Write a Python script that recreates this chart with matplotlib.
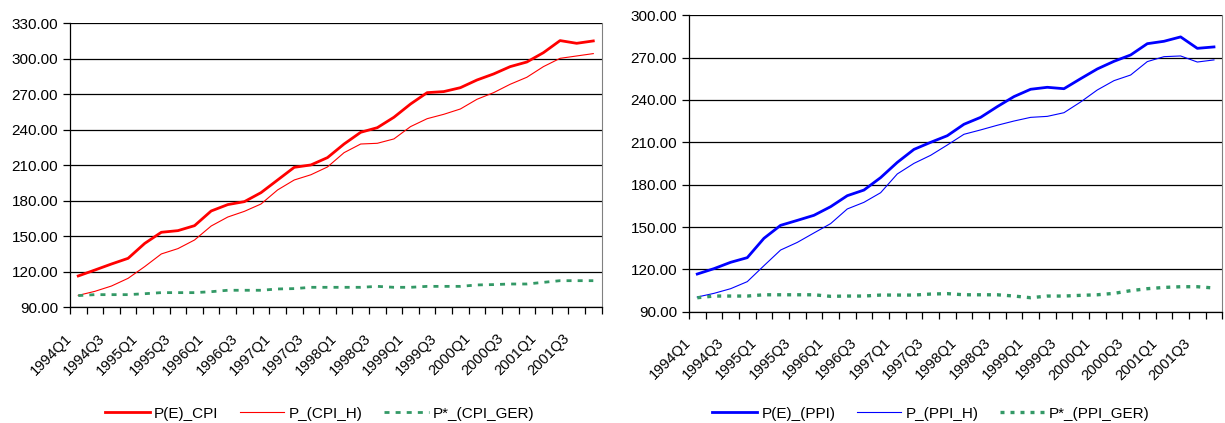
import matplotlib

matplotlib.use("Agg")
import matplotlib.pyplot as plt
import matplotlib.transforms as mtransforms
import numpy as np

plt.rcParams.update({
    "font.family": ["Liberation Sans", "DejaVu Sans"],
    "font.size": 10.5,
})

QUARTERS = [f"{y}Q{q}" for y in range(1994, 2002) for q in range(1, 5)]

PE_CPI = [116.5, 121.5, 126.6, 131.4, 144.0, 153.4, 154.8, 159.0,
          171.4, 176.8, 179.3, 186.9, 197.6, 208.3, 210.3, 216.5,
          228.0, 237.9, 241.8, 250.6, 261.8, 271.4, 272.3, 275.6,
          282.1, 287.2, 293.4, 297.3, 305.2, 315.4, 313.1, 315.1]
P_CPI_H = [100.1, 103.5, 108.0, 114.5, 124.4, 135.1, 139.6, 146.9,
           158.7, 166.3, 171.1, 177.3, 189.2, 197.6, 202.0, 208.6,
           220.7, 228.0, 228.6, 232.3, 242.7, 249.4, 253.1, 257.6,
           265.8, 271.4, 278.5, 284.4, 293.4, 300.4, 302.4, 304.4]
P_CPI_GER = [99.9, 100.7, 100.7, 100.7, 101.5, 102.4, 102.4, 102.4,
             103.2, 104.4, 104.4, 104.4, 105.5, 105.8, 106.9, 106.9,
             106.9, 106.9, 107.7, 106.9, 106.9, 107.7, 107.7, 107.7,
             108.9, 109.2, 109.7, 109.7, 111.1, 112.5, 112.5, 112.5]

PE_PPI = [116.7, 120.5, 125.0, 128.3, 142.0, 151.2, 154.7, 158.3,
          164.4, 172.2, 176.2, 185.0, 195.8, 205.0, 210.0, 214.7,
          222.8, 227.7, 235.3, 242.4, 247.6, 249.0, 248.0, 255.1,
          262.0, 267.4, 271.9, 279.9, 281.6, 284.7, 276.6, 277.6]
P_PPI_H = [100.4, 103.0, 106.3, 111.3, 122.6, 133.7, 139.1, 145.8,
           152.4, 162.8, 167.5, 174.3, 187.6, 195.1, 200.8, 208.1,
           215.7, 218.8, 222.1, 225.1, 227.7, 228.4, 231.0, 238.6,
           247.1, 253.7, 257.7, 267.2, 270.7, 271.2, 266.9, 268.4]
P_PPI_GER = [99.9, 101.1, 101.1, 101.1, 102.0, 102.0, 102.0, 102.0,
             100.9, 101.1, 101.1, 101.8, 101.8, 101.8, 102.5, 102.8,
             102.0, 102.0, 102.0, 101.1, 99.9, 101.1, 101.1, 101.6,
             102.0, 103.0, 104.9, 106.3, 107.2, 107.7, 107.7, 106.8]

GREEN = "#339966"


def setup(ax, ymax):
    n = len(QUARTERS)
    ax.set_xlim(-0.5, n - 0.5)
    ax.set_ylim(90, ymax)
    ax.set_yticks(np.arange(90, ymax + 1, 30))
    ax.yaxis.set_major_formatter(matplotlib.ticker.FormatStrFormatter("%.2f"))
    ax.yaxis.grid(True, color="black", lw=0.9)
    ax.set_axisbelow(True)
    ax.set_xticks(np.arange(n + 1) - 0.5)
    ax.set_xticklabels([])
    ax.set_xticks(np.arange(0, n, 2), minor=True)
    ax.set_xticklabels(QUARTERS[::2], minor=True, rotation=45, ha="right",
                       va="center", rotation_mode="anchor")
    ax.tick_params(axis="x", which="minor", length=0, pad=18)
    ax.tick_params(axis="x", which="major", length=5, width=0.9, color="black")
    ax.tick_params(axis="y", length=5, width=0.9, labelsize=11)
    # nudge the slanted labels left/down like the original
    shift = mtransforms.ScaledTranslation(-9 / 100, -4 / 100, fig.dpi_scale_trans)
    for lab in ax.get_xticklabels(minor=True):
        lab.set_transform(lab.get_transform() + shift)
    ax.spines["top"].set_visible(False)
    ax.spines["right"].set_color("#808080")
    ax.spines["left"].set_linewidth(0.9)
    ax.spines["bottom"].set_linewidth(0.9)


fig = plt.figure(figsize=(12.25, 4.23), dpi=100)
ax1 = fig.add_axes([0.0571, 0.2735, 0.434, 0.6714])
ax2 = fig.add_axes([0.5624, 0.2631, 0.4354, 0.7007])

x = np.arange(len(QUARTERS))

ax1.plot(x, PE_CPI, color="#ff0000", lw=2.0, label="P(E)_CPI")
ax1.plot(x, P_CPI_H, color="#ff0000", lw=0.8, label="P_(CPI_H)")
ax1.plot(x, P_CPI_GER, color=GREEN, lw=2.0, dashes=(1.8, 2.2),
         label="P*_(CPI_GER)")
setup(ax1, 330)

ax2.plot(x, PE_PPI, color="#0000ff", lw=2.0, label="P(E)_(PPI)")
ax2.plot(x, P_PPI_H, color="#0000ff", lw=0.8, label="P_(PPI_H)")
ax2.plot(x, P_PPI_GER, color=GREEN, lw=2.4, dashes=(1.2, 1.8),
         label="P*_(PPI_GER)")
setup(ax2, 300)

for ax, cx in ((ax1, 320 / 1225), (ax2, 931 / 1225)):
    h, l = ax.get_legend_handles_labels()
    fig.legend(h, l, loc="center", bbox_to_anchor=(cx, 0.022), ncol=3,
               frameon=False, handlelength=2.9, handletextpad=0.3,
               columnspacing=1.4, fontsize=11)

fig.savefig("out.png", dpi=100)
